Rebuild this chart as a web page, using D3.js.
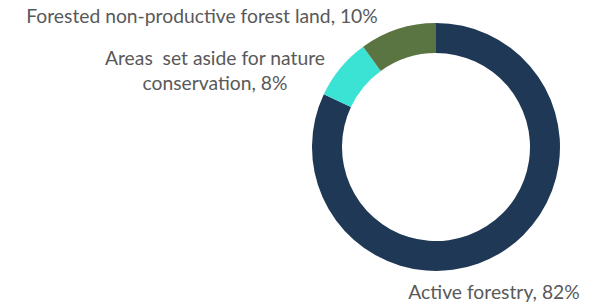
<!DOCTYPE html>
<html>
<head>
<meta charset="utf-8">
<script src="https://cdn.jsdelivr.net/npm/d3@7"></script>
<style>
  body { margin: 0; background: #fff; }
  text { font-family: Lato, "Open Sans", sans-serif; fill: #595959; }
</style>
</head>
<body>
<div id="chart"></div>
<script>
// data
var categories = ["Active forestry", "Areas set aside for nature conservation", "Forested non-productive forest land"];
var shares = [82, 8, 10];
var colors = ["#1f3855", "#3be3d4", "#5a7442"];
// label lines shown next to the ring
var labelLines = [
  ["Active forestry, 82%"],
  ["Areas  set aside for nature", "conservation, 8%"],
  ["Forested non-productive forest land, 10%"]
];

var width = 600, height = 306;
var cx = 436, cy = 147, outerR = 124, innerR = 94;

var svg = d3.select("#chart")
  .append("svg")
    .attr("width", width)
    .attr("height", height);

var data = categories.map(function(c, i) {
  return { name: c, value: shares[i], color: colors[i], lines: labelLines[i] };
});

var pie = d3.pie()
  .sort(null)
  .value(function(d) { return d.value; });

var arc = d3.arc()
  .innerRadius(innerR)
  .outerRadius(outerR);

var g = svg.append("g")
  .attr("transform", "translate(" + cx + "," + cy + ")");

g.selectAll("path")
  .data(pie(data))
  .enter()
  .append("path")
    .attr("d", arc)
    .attr("fill", function(d) { return d.data.color; });

// label positions (centre x, first baseline)
var labelPos = [
  { x: 494, y: 299 },
  { x: 215, y: 65 },
  { x: 202, y: 23 }
];

data.forEach(function(d, i) {
  var t = svg.append("text")
    .attr("x", labelPos[i].x)
    .attr("y", labelPos[i].y)
    .attr("text-anchor", "middle")
    .style("font-size", "19.3px");
  d.lines.forEach(function(line, j) {
    t.append("tspan")
      .attr("x", labelPos[i].x)
      .attr("dy", j === 0 ? 0 : 25)
      .style("white-space", "pre")
      .text(line);
  });
});
</script>
</body>
</html>
